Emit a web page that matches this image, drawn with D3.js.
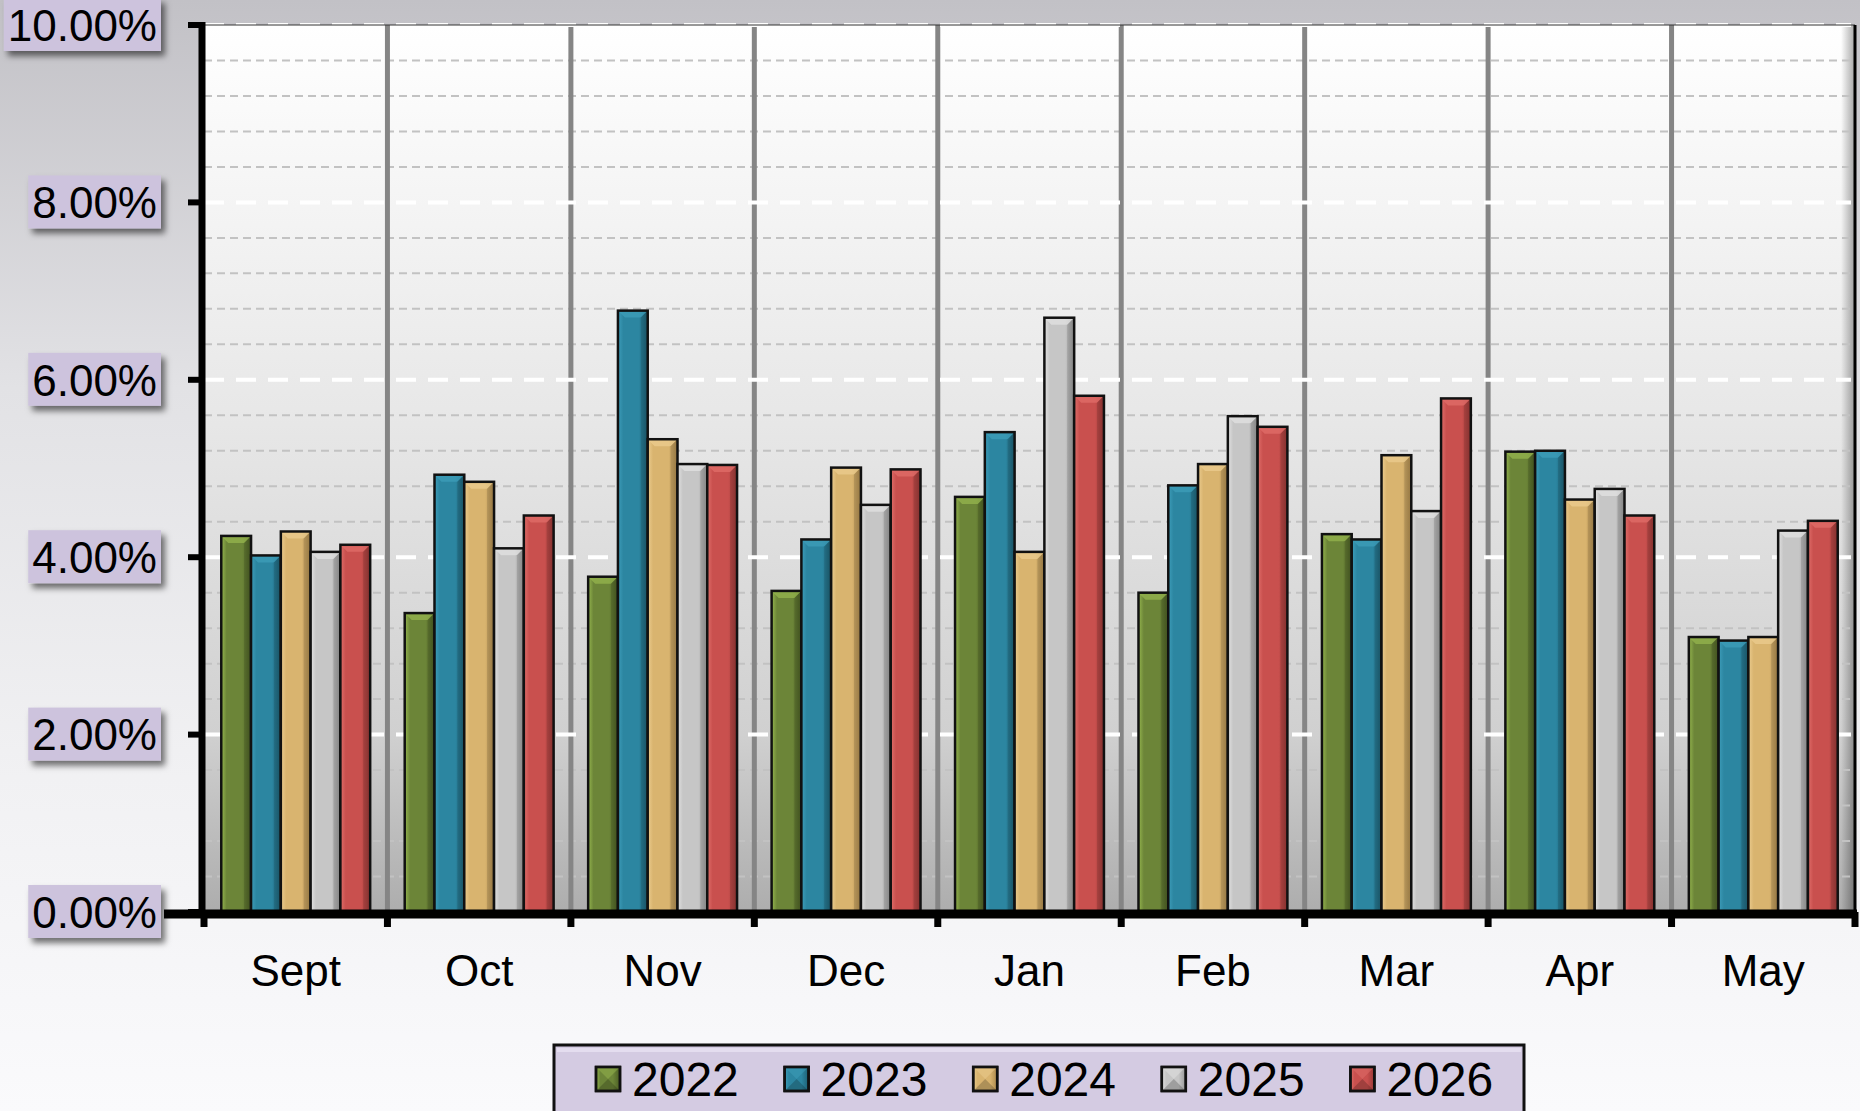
<!DOCTYPE html>
<html lang="en">
<head>
<meta charset="UTF-8">
<title>Monthly rates by year</title>
<script src="https://d3js.org/d3.v7.min.js"></script>
<style>
    html, body { margin: 0; padding: 0; }
    body { width: 1860px; height: 1111px; overflow: hidden; }
    svg { display: block; font-family: "Liberation Sans", Arial, sans-serif; }
</style>
</head>
<body>
<svg width="1860" height="1111"></svg>

<script>
    // data
    const months = ["Sept", "Oct", "Nov", "Dec", "Jan", "Feb", "Mar", "Apr", "May"];
    const years = ["2022", "2023", "2024", "2025", "2026"];
    const v2022 = [4.24, 3.37, 3.78, 3.62, 4.68, 3.60, 4.26, 5.19, 3.10];
    const v2023 = [4.02, 4.93, 6.78, 4.20, 5.41, 4.81, 4.20, 5.20, 3.06];
    const v2024 = [4.29, 4.85, 5.33, 5.01, 4.06, 5.05, 5.15, 4.65, 3.10];
    const v2025 = [4.06, 4.10, 5.05, 4.59, 6.70, 5.59, 4.52, 4.77, 4.30];
    const v2026 = [4.14, 4.47, 5.04, 4.99, 5.82, 5.47, 5.79, 4.47, 4.41];
    const yTicks = [0, 2, 4, 6, 8, 10];
    const series = [v2022, v2023, v2024, v2025, v2026];

    // light / base / dark shade for each year
    const shades = {
        "2022": ["#95b64e", "#6c8538", "#4a5d24"],
        "2023": ["#3d9dba", "#2c86a1", "#1d5f73"],
        "2024": ["#ebcc8f", "#d9b46f", "#ab884c"],
        "2025": ["#e2e2e2", "#c6c6c6", "#979797"],
        "2026": ["#e06e6a", "#c9504e", "#973836"]
    };

    const svg = d3.select("svg");
    const pLeft = 204, pRight = 1855, pTop = 25, pBottom = 912;

    const x = d3.scaleBand().domain(months).range([pLeft, pRight]).padding(0);
    const xs = d3.scaleBand().domain(years).range([0, x.bandwidth()]).paddingInner(0).paddingOuter(0.58);
    const y = d3.scaleLinear().domain([0, 10]).range([pBottom, pTop]);

    const defs = svg.append("defs");

    const bg = defs.append("linearGradient").attr("id", "bg")
        .attr("x1", 0).attr("y1", 0).attr("x2", 0).attr("y2", 1);
    bg.append("stop").attr("offset", 0).attr("stop-color", "#c2c1c6");
    bg.append("stop").attr("offset", 0.35).attr("stop-color", "#e2e2e5");
    bg.append("stop").attr("offset", 0.7).attr("stop-color", "#f1f1f3");
    bg.append("stop").attr("offset", 1).attr("stop-color", "#fafafc");

    const pg = defs.append("linearGradient").attr("id", "plotbg")
        .attr("x1", 0).attr("y1", 0).attr("x2", 0).attr("y2", 1);
    pg.append("stop").attr("offset", 0).attr("stop-color", "#ffffff");
    pg.append("stop").attr("offset", 0.45).attr("stop-color", "#e7e7e7");
    pg.append("stop").attr("offset", 0.8).attr("stop-color", "#d0d0d0");
    pg.append("stop").attr("offset", 1).attr("stop-color", "#adadad");

    const rs = defs.append("linearGradient").attr("id", "rightshade")
        .attr("x1", 0).attr("y1", 0).attr("x2", 1).attr("y2", 0);
    rs.append("stop").attr("offset", 0).attr("stop-color", "#000").attr("stop-opacity", 0);
    rs.append("stop").attr("offset", 1).attr("stop-color", "#000").attr("stop-opacity", 0.35);

    years.forEach(yr => {
        const s = shades[yr];
        const g = defs.append("linearGradient").attr("id", "bar" + yr)
            .attr("x1", 0).attr("y1", 0).attr("x2", 1).attr("y2", 0);
        g.append("stop").attr("offset", 0).attr("stop-color", s[0]);
        g.append("stop").attr("offset", 0.18).attr("stop-color", s[1]);
        g.append("stop").attr("offset", 0.7).attr("stop-color", s[1]);
        g.append("stop").attr("offset", 1).attr("stop-color", s[2]);
    });

    const shadow = defs.append("filter").attr("id", "shadow")
        .attr("x", "-20%").attr("y", "-20%").attr("width", "150%").attr("height", "160%");
    shadow.append("feDropShadow").attr("dx", 4).attr("dy", 5).attr("stdDeviation", 3)
        .attr("flood-color", "#000").attr("flood-opacity", 0.55);

    // page background
    svg.append("rect").attr("width", 1860).attr("height", 1111).attr("fill", "url(#bg)");

    // plot area
    svg.append("rect").attr("x", pLeft).attr("y", pTop)
        .attr("width", pRight - pLeft).attr("height", pBottom - pTop).attr("fill", "url(#plotbg)");
    svg.append("rect").attr("x", pRight - 14).attr("y", pTop)
        .attr("width", 14).attr("height", pBottom - pTop).attr("fill", "url(#rightshade)");

    // minor grid every 0.4
    const minor = d3.range(0.4, 10, 0.4).filter(v => Math.abs(v / 2 - Math.round(v / 2)) > 0.01);
    svg.append("g").selectAll("line").data(minor).join("line")
        .attr("x1", pLeft).attr("x2", pRight - 4)
        .attr("y1", d => y(d)).attr("y2", d => y(d))
        .attr("stroke", "#c2c2c2").attr("stroke-width", 2).attr("stroke-dasharray", "8,5");

    // category separators
    svg.append("g").selectAll("line").data(months.slice(1)).join("line")
        .attr("x1", d => x(d)).attr("x2", d => x(d))
        .attr("y1", pTop).attr("y2", pBottom)
        .attr("stroke", "#858585").attr("stroke-width", 5);

    // major grid
    svg.append("g").selectAll("line").data(yTicks.slice(1)).join("line")
        .attr("x1", pLeft).attr("x2", pRight - 4)
        .attr("y1", d => y(d)).attr("y2", d => y(d))
        .attr("stroke", "#ffffff").attr("stroke-width", 4).attr("stroke-dasharray", "20,12");

    svg.append("line").attr("x1", pLeft).attr("x2", pRight).attr("y1", pTop).attr("y2", pTop)
        .attr("stroke", "#333").attr("stroke-width", 1);
    svg.append("line").attr("x1", pRight).attr("x2", pRight).attr("y1", pTop).attr("y2", pBottom)
        .attr("stroke", "#000").attr("stroke-width", 3);

    // bars
    const rows = [];
    months.forEach((m, i) => years.forEach((yr, j) => rows.push({ m, yr, v: series[j][i] })));

    const bars = svg.append("g").selectAll("g").data(rows).join("g")
        .attr("transform", d => `translate(${x(d.m) + xs(d.yr)},0)`);
    const bw = xs.bandwidth();
    bars.append("rect")
        .attr("x", 0).attr("y", d => y(d.v))
        .attr("width", bw).attr("height", d => pBottom - y(d.v))
        .attr("fill", d => "url(#bar" + d.yr + ")");
    // top bevel
    bars.append("path")
        .attr("d", d => {
            const t = y(d.v), b = 7;
            return `M0,${t}L${bw},${t}L${bw - b},${t + b}L${b},${t + b}Z`;
        })
        .attr("fill", d => shades[d.yr][0]).attr("opacity", 0.75);
    bars.append("path")
        .attr("d", d => {
            const t = y(d.v), b = 7;
            return `M${bw},${t}L${bw - b},${t + b}L${bw - b},${pBottom}L${bw},${pBottom}Z`;
        })
        .attr("fill", "#000").attr("opacity", 0.12);
    bars.append("rect")
        .attr("x", 0).attr("y", d => y(d.v))
        .attr("width", bw).attr("height", d => pBottom - y(d.v))
        .attr("fill", "none").attr("stroke", "#111").attr("stroke-width", 2.5);

    // axes
    const axis = svg.append("g");
    axis.append("line").attr("x1", pLeft - 2).attr("x2", pLeft - 2).attr("y1", pTop - 3).attr("y2", pBottom + 4)
        .attr("stroke", "#000").attr("stroke-width", 7);
    axis.append("line").attr("x1", pLeft - 40).attr("x2", pRight + 2).attr("y1", pBottom + 2).attr("y2", pBottom + 2)
        .attr("stroke", "#000").attr("stroke-width", 9);
    axis.selectAll(".yt").data(yTicks).join("line").attr("class", "yt")
        .attr("x1", pLeft - 16).attr("x2", pLeft - 2)
        .attr("y1", d => y(d)).attr("y2", d => y(d))
        .attr("stroke", "#000").attr("stroke-width", 6);
    axis.selectAll(".xt").data(months.concat(["end"])).join("line").attr("class", "xt")
        .attr("x1", (d, i) => i < months.length ? x(d) : pRight)
        .attr("x2", (d, i) => i < months.length ? x(d) : pRight)
        .attr("y1", pBottom).attr("y2", pBottom + 15)
        .attr("stroke", "#000").attr("stroke-width", 7);

    // y labels in lavender boxes
    const fmt = d3.format(".2f");
    const yl = svg.append("g").selectAll("g").data(yTicks).join("g")
        .attr("transform", d => `translate(161,${y(d)})`);
    yl.append("text")
        .attr("x", -4).attr("dy", "0.36em")
        .attr("text-anchor", "end").attr("font-size", 44).attr("fill", "#000")
        .text(d => fmt(d) + "%")
        .each(function () {
            const bb = this.getBBox();
            d3.select(this.parentNode).insert("rect", "text")
                .attr("x", bb.x - 4).attr("y", -27)
                .attr("width", bb.width + 8).attr("height", 53)
                .attr("fill", "#cdc3dd").attr("filter", "url(#shadow)");
        });

    // x labels
    svg.append("g").selectAll("text").data(months).join("text")
        .attr("x", d => x(d) + x.bandwidth() / 2).attr("y", 970).attr("dy", "0.36em")
        .attr("text-anchor", "middle").attr("font-size", 44).attr("fill", "#000")
        .text(d => d);

    // legend
    const lg = svg.append("g");
    lg.append("rect").attr("x", 554).attr("y", 1045).attr("width", 970).attr("height", 90)
        .attr("fill", "#d4cbe2").attr("stroke", "#111").attr("stroke-width", 3);
    lg.append("rect").attr("x", 557).attr("y", 1048).attr("width", 964).attr("height", 4)
        .attr("fill", "#e4ddef");
    const li = lg.selectAll("g").data(years).join("g")
        .attr("transform", (d, i) => `translate(${596 + i * 188.6},1079)`);
    li.append("rect").attr("x", 0).attr("y", -12).attr("width", 24).attr("height", 24)
        .attr("fill", d => "url(#bar" + d + ")").attr("stroke", "#111").attr("stroke-width", 2.5);
    li.append("path").attr("d", "M0,-12L24,-12L12,0Z").attr("fill", d => shades[d][0]).attr("opacity", 0.5);
    li.append("path").attr("d", "M0,12L24,12L12,0Z").attr("fill", "#000").attr("opacity", 0.2);
    li.append("rect").attr("x", 0).attr("y", -12).attr("width", 24).attr("height", 24)
        .attr("fill", "none").attr("stroke", "#111").attr("stroke-width", 2.5);
    li.append("text").attr("x", 36).attr("dy", "0.36em")
        .attr("font-size", 48).attr("fill", "#000").text(d => d);
</script>
</body>
</html>
